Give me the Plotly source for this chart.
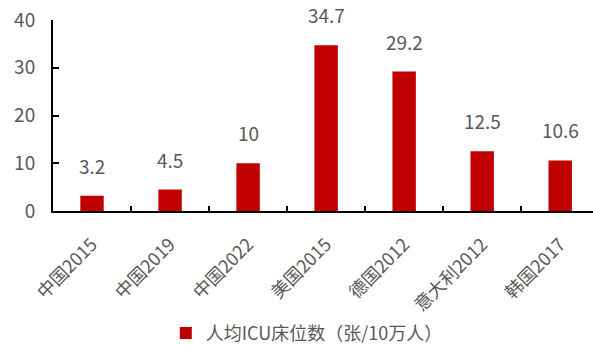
import plotly.graph_objects as go

categories = ["中国2015", "中国2019", "中国2022", "美国2015", "德国2012", "意大利2012", "韩国2017"]
values = [3.2, 4.5, 10, 34.7, 29.2, 12.5, 10.6]
labels = ["3.2", "4.5", "10", "34.7", "29.2", "12.5", "10.6"]
series_name = "人均ICU床位数（张/10万人）"

FONT = "Noto Sans CJK SC, sans-serif"
GRAY = "#595959"

fig = go.Figure()
fig.add_trace(go.Bar(
    x=categories, y=values, name=series_name,
    marker=dict(color="#C00000", line=dict(width=0)),
    width=0.30, showlegend=True,
))
for c, v, t in zip(categories, values, labels):
    fig.add_annotation(x=c, y=v, text=t, showarrow=False, yanchor="bottom",
                       yshift=15, font=dict(family=FONT, size=19, color=GRAY))

fig.update_layout(
    width=593, height=345,
    margin=dict(l=53, r=0, t=20, b=134, autoexpand=False),
    paper_bgcolor="white", plot_bgcolor="white",
    font=dict(family=FONT, size=19, color=GRAY),
    showlegend=True,
    legend=dict(orientation="h", x=0.47, xanchor="center", y=-0.64, yanchor="middle",
                font=dict(family=FONT, size=18, color=GRAY), itemwidth=30),
)
fig.update_xaxes(
    range=[-0.5, 6.42], showline=True, linecolor="black", linewidth=2,
    ticks="inside", tickson="boundaries", ticklen=5, tickcolor="black", tickwidth=2,
    tickangle=-45, tickfont=dict(family=FONT, size=18, color=GRAY), showgrid=False,
    ticklabelstandoff=14, automargin=False,
)
fig.update_yaxes(
    range=[0, 40], dtick=10, showline=True, linecolor="black", linewidth=2,
    ticks="inside", ticklen=6, tickcolor="black", tickwidth=2,
    tickfont=dict(family=FONT, size=19, color=GRAY), showgrid=False, zeroline=False,
    ticklabelstandoff=12, automargin=False,
)
fig.write_html("out.html")
